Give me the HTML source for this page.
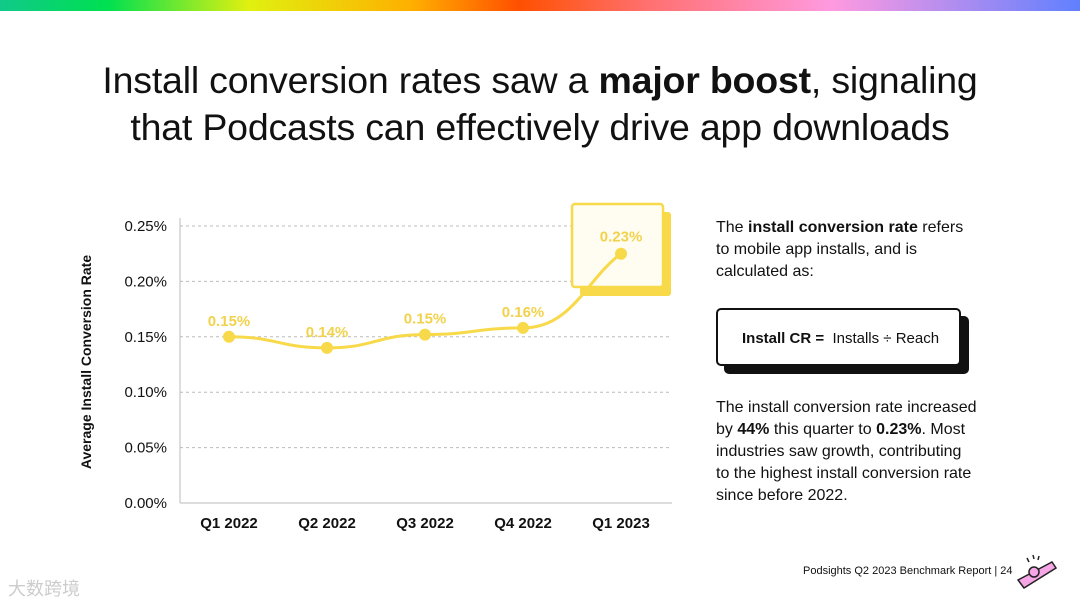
<!DOCTYPE html>
<html><head><meta charset="utf-8"><style>
body{margin:0;width:1080px;height:608px;background:#fff;overflow:hidden;position:relative;font-family:"Liberation Sans",sans-serif;color:#111}
.bar{position:absolute;left:0;top:0;width:1080px;height:11px;background:linear-gradient(90deg,#10c98a 0%,#00e050 10%,#e0f010 23%,#ffb000 38%,#ff5000 48%,#ff7070 60%,#ff9ae0 77%,#6080ff 100%)}
h1{position:absolute;left:0;width:1080px;top:57px;margin:0;text-align:center;font-weight:normal;font-size:37.5px;line-height:47px;letter-spacing:-0.2px}
.t{position:absolute;font-size:16px;line-height:22px;left:716px;width:340px;white-space:nowrap}
</style></head><body>
<div class="bar"></div>
<h1>Install conversion rates saw a <b>major boost</b>, signaling<br>that Podcasts can effectively drive app downloads</h1>
<svg id="chart" width="700" height="540" style="position:absolute;left:0;top:0"></svg>
<div class="t" style="top:217px">The <b>install conversion rate</b> refers<br>to mobile app installs, and is<br>calculated as:</div>
<div style="position:absolute;left:724px;top:316px;width:245px;height:58px;background:#111;border-radius:5px"></div>
<div style="position:absolute;left:716px;top:308px;width:241px;height:54px;background:#fff;border:2px solid #111;border-radius:5px;font-size:15px;line-height:58px;text-indent:24px"><b>Install CR =</b> &nbsp;Installs ÷ Reach</div>
<div class="t" style="top:397px">The install conversion rate increased<br>by <b>44%</b> this quarter to <b>0.23%</b>. Most<br>industries saw growth, contributing<br>to the highest install conversion rate<br>since before 2022.</div>
<div style="position:absolute;left:803px;top:565px;font-size:11px">Podsights Q2 2023 Benchmark Report | 24</div>
<svg style="position:absolute;left:1012px;top:550px" width="50" height="42"><path d="M6 30 L40 12 L44 18 L12 38 Z" fill="#f6a6e6" stroke="#222" stroke-width="1.5"/><circle cx="22" cy="22" r="5" fill="#f6a6e6" stroke="#222" stroke-width="1.5"/><path d="M15 8l2 4M21 5l1 4M27 6l-1 4" stroke="#222" stroke-width="1.5"/></svg>
<div style="position:absolute;left:8px;top:575px;font-size:18px;color:#ccc">大数跨境</div>
<script>
const categories=["Q1 2022","Q2 2022","Q3 2022","Q4 2022","Q1 2023"];
const values=[0.150,0.140,0.152,0.158,0.225];
const valueLabels=["0.15%","0.14%","0.15%","0.16%","0.23%"];
const yTicks=[0,0.05,0.10,0.15,0.20,0.25];
const tickLabels=["0.00%","0.05%","0.10%","0.15%","0.20%","0.25%"];
const svg=document.getElementById('chart');const NS='http://www.w3.org/2000/svg';
const x0=180,x1=672,yB=503,yT=226;
const xs=i=>x0+(i+0.5)*(x1-x0)/categories.length*0.996;
const ys=v=>yB-(v/0.25)*(yB-yT);
function mk(t,a,txt){const e=document.createElementNS(NS,t);for(const k in a)e.setAttribute(k,a[k]);if(txt!==undefined)e.textContent=txt;svg.appendChild(e);return e;}
yTicks.forEach((v,i)=>{
 const g=mk('line',{x1:x0,x2:x1,y1:ys(v),y2:ys(v),stroke:'#bbb','stroke-dasharray':i?'3,3':'0','stroke-width':1});
 
 
 const t=mk('text',{x:167,y:ys(v)+5,'text-anchor':'end','font-size':15,fill:'#111'},tickLabels[i]);
 
 
});
const yl=mk('line',{x1:x0,x2:x0,y1:yT-8,y2:yB,stroke:'#bbb'});


const at=mk('text',{transform:'translate(91,362) rotate(-90)','text-anchor':'middle','font-size':14,'font-weight':'bold',fill:'#111'},'Average Install Conversion Rate');


const last=categories.length-1,hx=xs(last);
const hs=mk('rect',{x:hx-41,y:212,width:91,height:84,rx:3,fill:'#f7d94a'});


const hb=mk('rect',{x:hx-49,y:204,width:91,height:83,rx:3,fill:'#fffdf2',stroke:'#f7d94a','stroke-width':2.5});


let d='';const P=values.map((v,i)=>[xs(i),ys(v)]);
P.forEach((p,i)=>{if(!i)d='M'+p[0]+' '+p[1];else{const q=P[i-1],m=(p[0]-q[0])/2;d+=i==last?` C${q[0]+m} ${q[1]} ${p[0]-m*0.7} ${p[1]+25} ${p[0]} ${p[1]}`:` C${q[0]+m} ${q[1]} ${p[0]-m} ${p[1]} ${p[0]} ${p[1]}`;}});
const ln=mk('path',{d:d,fill:'none',stroke:'#f7d94a','stroke-width':3});


P.forEach((p,i)=>{
 const c=mk('circle',{cx:p[0],cy:p[1],r:6,fill:'#f7d94a'});
 
 
 const t=mk('text',{x:p[0],y:p[1]-(i==last?12:11),'text-anchor':'middle','font-size':15,'font-weight':'bold',fill:'#f2d24c'},valueLabels[i]);
 
 
 const x=mk('text',{x:p[0],y:528,'text-anchor':'middle','font-size':15,'font-weight':'bold',fill:'#111'},categories[i]);
 
 
});
</script>
</body></html>
